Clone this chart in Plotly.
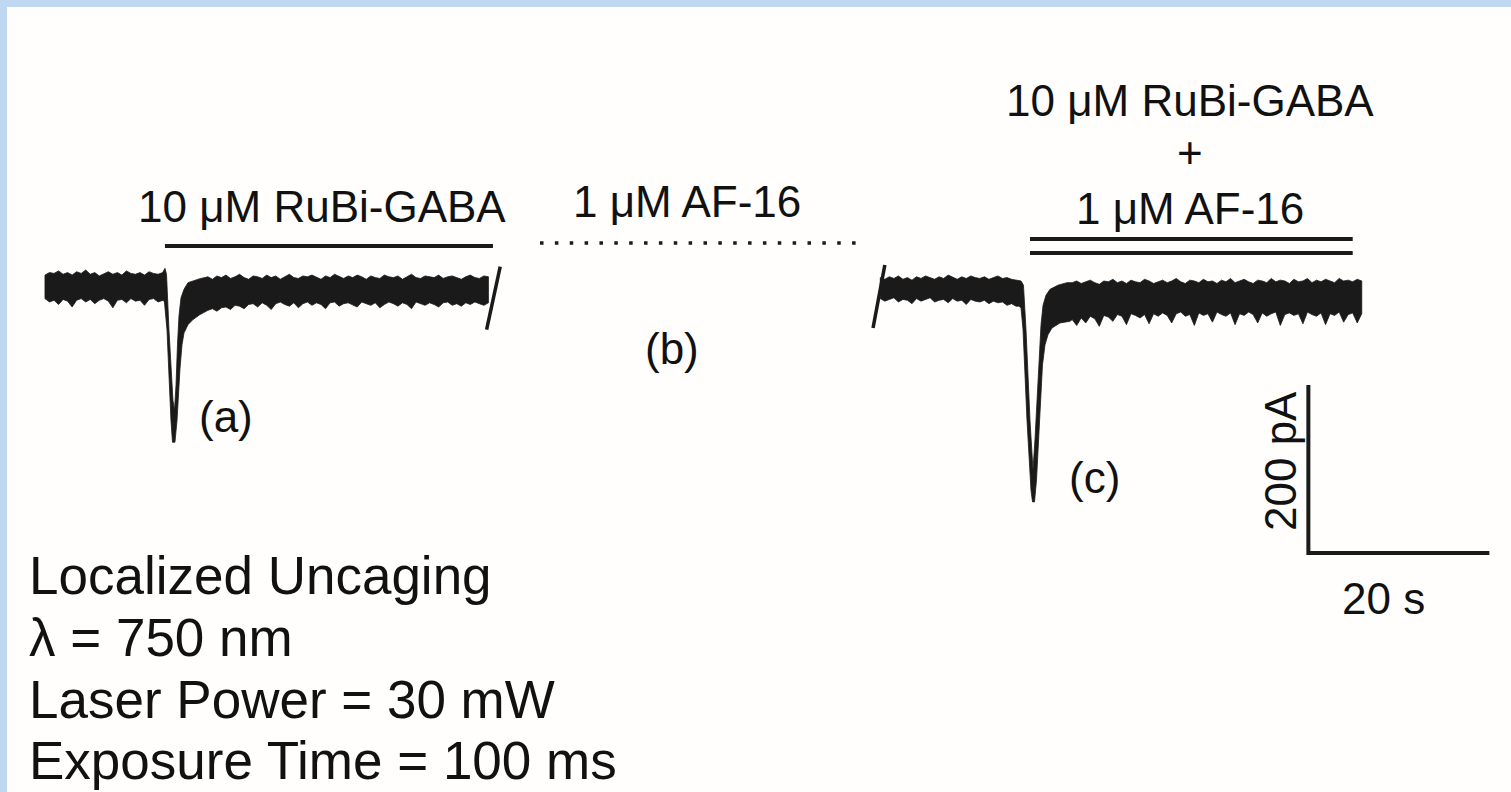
import plotly.graph_objects as go

# ---------------- data: time in s, current in pA ----------------
STEP = 0.5  # sampling of the noise envelopes (s)

# Trace (a): 10 uM RuBi-GABA
a_pre_start = 0.0
a_pre_upper = [13, 16, 15, 18, 14, 16, 13, 17, 15, 19, 14, 16, 12, 15, 17, 14, 16, 13, 18, 15, 14, 16, 13, 17, 15, 14, 16]
a_pre_lower = [-15, -19, -17, -22, -16, -18, -25, -17, -15, -19, -16, -21, -17, -15, -18, -26, -17, -16, -20, -15, -18, -17, -23, -16, -15, -19]
a_spk_upper_t = [13.26, 13.43, 13.70, 14.14, 14.31, 14.48, 14.64, 14.81, 15.03, 15.36, 15.80, 16.57, 17.2, 17.68]
a_spk_upper = [21, 14, -52, -136, -148, -118, -70, -35, -14, -4, 4, 7, 9, 10]
a_spk_lower_t = [13.04, 13.20, 13.48, 13.92, 14.09, 14.36, 14.59, 14.75, 14.92, 15.14, 15.36, 15.80, 16.35, 17.13, 17.6]
a_spk_lower = [-17, -19, -52, -160, -186, -186, -160, -130, -98, -70, -56, -46, -40, -34, -31]
a_post_start = 18.0
a_post_upper = [11, 8, 12, 10, 13, 9, 11, 14, 10, 8, 12, 11, 9, 13, 10, 12, 8, 11, 14, 10, 9, 12, 11, 13, 10, 8, 12, 10, 14, 11, 9, 12,
                10, 13, 11, 8, 12, 10, 9, 13, 11, 10, 12, 8, 11, 14, 10, 9, 12, 11, 10, 13, 9, 11, 12, 10, 8, 11, 13, 10, 9, 12, 11]
a_post_lower = [-29, -27, -30, -26, -25, -28, -23, -24, -27, -22, -21, -25, -20, -23, -28, -21, -19, -22, -24, -20, -26, -21, -19, -23,
                -20, -22, -27, -20, -19, -24, -21, -20, -22, -25, -19, -21, -23, -20, -26, -22, -19, -21, -24, -20, -22, -27, -19, -21,
                -23, -20, -22, -25, -20, -19, -23, -21, -24, -20, -22, -19, -21, -23, -20]

# Trace (c): 10 uM RuBi-GABA + 1 uM AF-16
c_pre_start = 92.3
c_pre_upper = [10, 8, 11, 9, 12, 8, 10, 7, 11, 9, 12, 10, 8, 11, 9, 13, 10, 8, 11, 9, 12, 10, 9, 11, 8, 10, 12, 9, 10, 8, 7]
c_pre_lower = [-15, -18, -16, -14, -19, -16, -17, -21, -15, -18, -16, -14, -19, -17, -16, -20, -15, -18, -17, -22, -16, -18, -19, -17,
               -21, -18, -20, -19, -23, -21, -24]
c_spk_upper_t = [107.85, 108.12, 108.40, 108.84, 109.17, 109.39, 109.61, 109.83, 110.06, 110.28, 110.61, 111.05, 111.93, 112.93]
c_spk_upper = [6, 1, -52, -160, -219, -183, -136, -88, -46, -23, -11, -4, 1, 4]
c_spk_lower_t = [107.62, 107.85, 108.07, 108.51, 108.95, 109.12, 109.34, 109.56, 109.78, 110.00, 110.22, 110.50, 110.83, 111.27,
                 112.15, 113.26]
c_spk_lower = [-24, -26, -52, -160, -243, -257, -257, -231, -183, -136, -94, -70, -58, -50, -44, -42]
c_post_start = 113.5
c_post_upper = [4, 6, 3, 5, 7, 4, 2, 6, 5, 8, 4, 6, 3, 7, 5, 4, 8, 6, 3, 5, 7, 4, 6, 9, 5, 3, 7, 6, 4, 8, 5, 6, 3, 7, 5, 9, 4, 6, 8, 5,
                3, 7, 6, 4, 9, 5, 7, 6, 3, 8, 5, 6, 9, 4, 7, 5, 8, 6, 4, 9, 6, 7, 5, 8, 6]
c_post_lower = [-40, -47, -38, -44, -36, -39, -48, -35, -37, -42, -34, -36, -46, -33, -35, -38, -34, -45, -33, -36, -32, -35, -44, -33,
                -31, -36, -34, -47, -32, -35, -33, -43, -31, -34, -36, -32, -46, -33, -35, -31, -34, -44, -32, -36, -33, -31, -47, -34,
                -32, -35, -33, -45, -31, -34, -36, -32, -46, -33, -35, -31, -43, -34, -32, -44, -33]

# break marks (s, pA)
break_a_t = [48.8, 50.3]
break_a_i = [-52, 23]
break_c_t = [91.5, 92.8]
break_c_i = [-50, 25]

# drug application periods (s) and bar levels (pA)
rubi_period = [13.26, 49.5]
rubi_level = 47.6
af16_period = [54.7, 89.6]
af16_level = 51.2
combo_period = [108.84, 144.5]
combo_levels = [56.0, 39.3]

# scale bar
sb_t0, sb_i0 = 139.6, -318.0
sb_time, sb_current = 20, 200

# axis ranges (s, pA)
X_RANGE = [-4.97, 161.99]
Y_RANGE = [-602.4, 340.5]

W, H = 1511, 792
INK = "#1a1a1a"
FONT = "Liberation Sans, Arial, sans-serif"


def grid(start, n):
    return [start + STEP * i for i in range(n)]


def band(pre_start, pre_up, pre_lo, su_t, su, sl_t, sl, post_start, post_up, post_lo):
    t_up = grid(pre_start, len(pre_up)) + su_t + grid(post_start, len(post_up))
    v_up = pre_up + su + post_up
    t_lo = grid(pre_start, len(pre_lo)) + sl_t + grid(post_start, len(post_lo))
    v_lo = pre_lo + sl + post_lo
    return t_up + t_lo[::-1] + [t_up[0]], v_up + v_lo[::-1] + [v_up[0]]


fig = go.Figure()

for args in [
    (a_pre_start, a_pre_upper, a_pre_lower, a_spk_upper_t, a_spk_upper, a_spk_lower_t, a_spk_lower,
     a_post_start, a_post_upper, a_post_lower),
    (c_pre_start, c_pre_upper, c_pre_lower, c_spk_upper_t, c_spk_upper, c_spk_lower_t, c_spk_lower,
     c_post_start, c_post_upper, c_post_lower),
]:
    x, y = band(*args)
    fig.add_trace(go.Scatter(x=x, y=y, mode="lines", fill="toself", fillcolor=INK,
                             line=dict(color=INK, width=0.8), hoverinfo="skip", showlegend=False))

# break marks
for bt, bi in [(break_a_t, break_a_i), (break_c_t, break_c_i)]:
    fig.add_trace(go.Scatter(x=bt, y=bi, mode="lines", line=dict(color=INK, width=3.5),
                             hoverinfo="skip", showlegend=False))

# application bars
fig.add_trace(go.Scatter(x=rubi_period, y=[rubi_level] * 2, mode="lines", line=dict(color=INK, width=4),
                         hoverinfo="skip", showlegend=False))
for lv in combo_levels:
    fig.add_trace(go.Scatter(x=combo_period, y=[lv] * 2, mode="lines", line=dict(color=INK, width=4),
                             hoverinfo="skip", showlegend=False))
fig.add_trace(go.Scatter(x=af16_period, y=[af16_level] * 2, mode="lines",
                         line=dict(color=INK, width=3.5, dash="3.5px,11.36px"),
                         hoverinfo="skip", showlegend=False))

# scale bar
fig.add_trace(go.Scatter(x=[sb_t0, sb_t0, sb_t0 + sb_time], y=[sb_i0 + sb_current, sb_i0, sb_i0],
                         mode="lines", line=dict(color=INK, width=4), hoverinfo="skip", showlegend=False))


def px(x):
    return x / W


def py(y):
    return 1 - y / H


def label(text, x, y, size=44, xanchor="center", angle=0):
    fig.add_annotation(text=text, x=px(x), y=py(y), xref="paper", yref="paper", showarrow=False,
                       xanchor=xanchor, yanchor="middle", textangle=angle,
                       font=dict(family=FONT, size=size, color="#111111"))


label("10 \u03bcM RuBi-GABA", 322, 206)
label("1 \u03bcM AF-16", 687, 202)
label("10 \u03bcM RuBi-GABA", 1190, 101)
label("+", 1190, 153)
label("1 \u03bcM AF-16", 1190, 208)
label("(a)", 226, 416)
label("(b)", 672, 348)
label("(c)", 1094, 478)
label("20 s", 1383, 598)
label(f"{sb_current} pA", 1280, 461, angle=-90)

for text, yy in [("Localized Uncaging", 575), ("\u03bb = 750 nm", 637),
                 ("Laser Power = 30 mW", 699), ("Exposure Time = 100 ms", 760)]:
    label(text, 27, yy, size=53, xanchor="left")

# light-blue frame on top and left
fig.add_shape(type="rect", xref="paper", yref="paper", x0=0, x1=7 / W, y0=0, y1=1,
              fillcolor="#BFD7F0", line=dict(width=0), layer="below")
fig.add_shape(type="rect", xref="paper", yref="paper", x0=0, x1=1, y0=1 - 7 / H, y1=1,
              fillcolor="#BFD7F0", line=dict(width=0), layer="below")

fig.update_layout(
    width=W, height=H, margin=dict(l=0, r=0, t=0, b=0),
    paper_bgcolor="#FFFEFC", plot_bgcolor="#FFFEFC",
    xaxis=dict(range=X_RANGE, visible=False, fixedrange=True),
    yaxis=dict(range=Y_RANGE, visible=False, fixedrange=True),
    showlegend=False,
)

fig.write_html("out.html", config={"displayModeBar": False},
               post_script="document.body.style.margin='0';document.body.style.overflow='hidden';")
